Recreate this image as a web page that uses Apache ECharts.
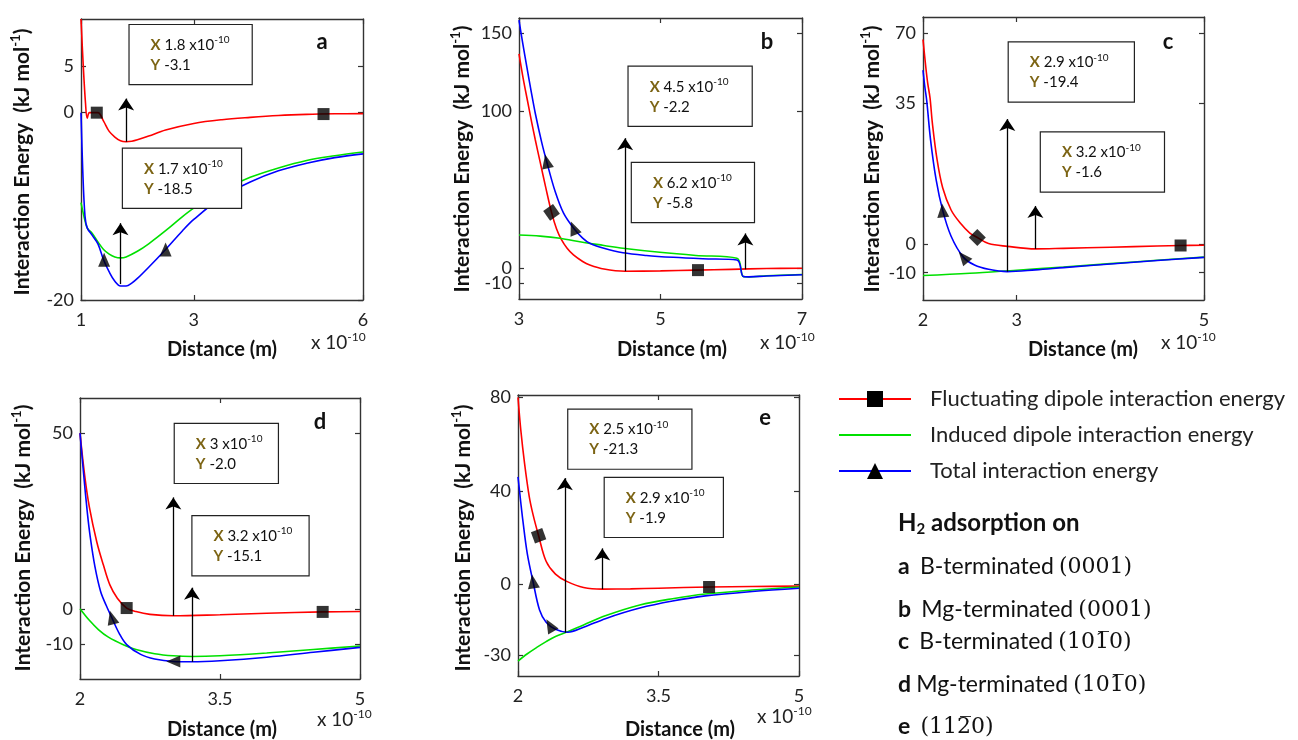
<!DOCTYPE html>
<html><head><meta charset="utf-8">
<script src="https://cdn.jsdelivr.net/npm/echarts@6/dist/echarts.min.js"></script>
<style>html,body{margin:0;padding:0;background:#fff}#c{width:1298px;height:740px}</style>
</head><body><div id="c"></div>
<script>
// ---------------- DATA (x in units of 1e-10 m, energies in kJ/mol) ----------------
const seriesNames = ['Fluctuating dipole interaction energy', 'Induced dipole interaction energy', 'Total interaction energy'];

// panel a
const aFluctX = [1.0,1.04,1.08,1.11,1.15,1.3,1.4,1.5,1.6,1.7,1.8,1.9,2.0,2.2,2.5,3.0,3.5,4.0,4.5,5.0,5.5,6.0];
const aFluctY = [10,5,1,-0.6,0,0,-0.9,-2.0,-2.6,-3.0,-3.1,-3.05,-2.9,-2.5,-1.85,-1.15,-0.75,-0.5,-0.3,-0.18,-0.12,-0.1];
const aIndX = [1.0,1.05,1.11,1.2,1.3,1.4,1.5,1.6,1.7,1.8,2.0,2.2,2.5,2.8,3.0,3.5,4.0,4.5,5.0,5.5,6.0];
const aIndY = [-9.6,-11,-12.3,-12.9,-13.8,-14.6,-15.1,-15.4,-15.5,-15.4,-14.8,-14,-12.6,-11.1,-10.2,-8.3,-6.9,-5.9,-5.1,-4.6,-4.2];
const aTotX = [1.0,1.03,1.07,1.11,1.2,1.3,1.4,1.5,1.6,1.7,1.8,1.9,2.0,2.2,2.5,2.8,3.0,3.5,4.0,4.5,5.0,5.5,6.0];
const aTotY = [0,-6,-11,-12.3,-13.1,-14.0,-15.7,-17,-18,-18.5,-18.5,-18.2,-17.7,-16.5,-14.6,-12.6,-11.4,-9.0,-7.4,-6.2,-5.4,-4.8,-4.4];
const aFluctMarkX = [1.28, 5.3], aFluctMarkY = [0, -0.15];
const aTotMarkX = [1.41, 2.5], aTotMarkY = [-15.7, -14.6];
const aXTicks = [1, 3, 6], aYTicks = [-20, 0, 5];
const aAnnX = [1.8, 1.7], aAnnY = [-3.1, -18.5], aAnnBase = [-3.1, -18.3], aAnnTip = [1.5, -11.8];

// panel b
const bFluctX = [3.0,3.06,3.12,3.18,3.23,3.3,3.38,3.46,3.53,3.6,3.68,3.77,3.9,4.0,4.2,4.5,5.0,5.5,6.0,6.5,7.0];
const bFluctY = [137,121,107,93,82,67.5,51,35.5,25,18,12.5,8.2,4,1.8,-0.8,-2.2,-2.0,-1.5,-1.0,-0.5,-0.3];
const bIndX = [3.0,3.3,3.58,3.9,4.2,4.47,4.99,5.5,6.08,6.17,6.25,6.5,7.0];
const bIndY = [21,20.3,18.9,16.3,14.3,12.5,9.9,7.9,6.1,-5.6,-5.8,-5.1,-4.3];
const bTotX = [3.0,3.05,3.11,3.17,3.23,3.32,3.39,3.51,3.63,3.77,3.9,4.0,4.2,4.47,4.8,5.18,5.6,6.08,6.17,6.25,6.5,7.0];
const bTotY = [158.6,144.5,128.8,113.5,99,80.5,68.2,49,35,25.5,19,15.7,12.5,9.6,7.9,6.7,5.8,5.0,-5.6,-5.8,-5.3,-4.5];
const bFluctMarkX = [3.46, 5.53], bFluctMarkY = [35.5, -1.5];
const bTotMarkX = [3.39, 3.77], bTotMarkY = [68.2, 25.5];
const bXTicks = [3, 5, 7], bYTicks = [-10, 0, 100, 150];
const bAnnX = [4.5, 6.2], bAnnY = [-2.2, -5.8], bAnnBase = [-2.2, -1.0], bAnnTip = [83, 22];

// panel c
const cFluctX = [2.0,2.03,2.05,2.075,2.1,2.15,2.21,2.3,2.4,2.5,2.58,2.7,2.9,3.2,3.5,4.0,4.5,4.75,5.0];
const cFluctY = [67,53,45,37.5,30,21,14,8.5,5.2,2.8,1.7,0.2,-0.7,-1.6,-1.4,-1.0,-0.6,-0.4,-0.3];
const cIndX = [2.0,2.5,3.0,3.5,4.0,4.5,5.0];
const cIndY = [-11,-10.2,-9.1,-8.0,-6.8,-5.6,-4.5];
const cTotX = [2.0,2.02,2.04,2.08,2.14,2.21,2.3,2.43,2.55,2.7,2.9,3.2,3.5,4.0,4.5,5.0];
const cTotY = [51.5,43,36,26,16,8.4,2,-4.5,-7.3,-8.8,-9.6,-9.0,-8.2,-6.9,-5.7,-4.6];
const cFluctMarkX = [2.58, 4.75], cFluctMarkY = [1.7, -0.4];
const cTotMarkX = [2.21, 2.43], cTotMarkY = [8.4, -4.5];
const cXTicks = [2, 3, 5], cYTicks = [-10, 0, 35, 70];
const cAnnX = [2.9, 3.2], cAnnY = [-19.4, -1.6], cAnnBase = [-9.6, -1.6], cAnnTip = [31, 9.5];

// panel d
const dFluctX = [2.0,2.05,2.1,2.18,2.25,2.32,2.4,2.5,2.6,2.75,3.0,3.5,4.0,4.6,5.0];
const dFluctY = [50,38,29,19,12.5,6.8,3,0.2,-0.8,-1.6,-2.0,-1.7,-1.3,-0.9,-0.8];
const dIndX = [2.0,2.1,2.2,2.3,2.47,2.6,2.8,3.0,3.2,3.5,4.0,4.5,5.0];
const dIndY = [0,-3.3,-6,-8,-10.3,-11.6,-12.8,-13.4,-13.6,-13.4,-12.6,-11.6,-10.6];
const dTotX = [2.0,2.04,2.08,2.11,2.16,2.22,2.28,2.34,2.42,2.5,2.65,2.8,3.0,3.2,3.5,4.0,4.5,5.0];
const dTotY = [50,38,27,20.4,12,5,1,-2.5,-7,-10.2,-13,-14.3,-15.0,-15.1,-14.8,-13.8,-12.4,-11.0];
const dFluctMarkX = [2.5, 4.6], dFluctMarkY = [0.2, -0.9];
const dTotMarkX = [2.34, 3.0], dTotMarkY = [-2.5, -15.0];
const dXTicks = [2, 3.5, 5], dYTicks = [-10, 0, 50];
const dAnnX = [3, 3.2], dAnnY = [-2.0, -15.1], dAnnBase = [-2.0, -15.1], dAnnTip = [31.7, 6];

// panel e
const eFluctX = [2.0,2.03,2.07,2.12,2.16,2.22,2.3,2.4,2.52,2.7,2.9,3.2,3.5,4.04,4.5,5.0];
const eFluctY = [80,66,51.8,37.6,30,20.9,10,4.5,1.4,-1.2,-1.9,-1.8,-1.5,-1.0,-0.8,-0.6];
const eIndX = [2.0,2.1,2.2,2.3,2.4,2.53,2.7,2.94,3.3,3.65,4.0,4.5,5.0];
const eIndY = [-32.6,-29.5,-26.8,-24.3,-22.1,-20.1,-17.2,-13.2,-8.7,-6,-4,-2.3,-1.0];
const eTotX = [2.0,2.03,2.05,2.1,2.16,2.23,2.3,2.4,2.53,2.7,2.94,3.3,3.65,4.0,4.5,5.0];
const eTotY = [46,35,28,13,1.4,-10.8,-16,-19,-20.3,-18.2,-14.4,-10,-7,-4.8,-2.9,-1.5];
const eFluctMarkX = [2.22, 4.04], eFluctMarkY = [20.9, -1.0];
const eTotMarkX = [2.16, 2.34], eTotMarkY = [1.4, -17.4];
const eXTicks = [2, 3.5, 5], eYTicks = [-30, 0, 40, 80];
const eAnnX = [2.5, 2.9], eAnnY = [-21.3, -1.9], eAnnBase = [-20.5, -1.9], eAnnTip = [45.5, 15.5];

// ---------------- assembly ----------------
const P = {
  a:{fx:aFluctX,fy:aFluctY,ix:aIndX,iy:aIndY,tx:aTotX,ty:aTotY,fmx:aFluctMarkX,fmy:aFluctMarkY,tmx:aTotMarkX,tmy:aTotMarkY,xt:aXTicks,yt:aYTicks,ax:aAnnX,ay:aAnnY,ab:aAnnBase,at:aAnnTip},
  b:{fx:bFluctX,fy:bFluctY,ix:bIndX,iy:bIndY,tx:bTotX,ty:bTotY,fmx:bFluctMarkX,fmy:bFluctMarkY,tmx:bTotMarkX,tmy:bTotMarkY,xt:bXTicks,yt:bYTicks,ax:bAnnX,ay:bAnnY,ab:bAnnBase,at:bAnnTip},
  c:{fx:cFluctX,fy:cFluctY,ix:cIndX,iy:cIndY,tx:cTotX,ty:cTotY,fmx:cFluctMarkX,fmy:cFluctMarkY,tmx:cTotMarkX,tmy:cTotMarkY,xt:cXTicks,yt:cYTicks,ax:cAnnX,ay:cAnnY,ab:cAnnBase,at:cAnnTip},
  d:{fx:dFluctX,fy:dFluctY,ix:dIndX,iy:dIndY,tx:dTotX,ty:dTotY,fmx:dFluctMarkX,fmy:dFluctMarkY,tmx:dTotMarkX,tmy:dTotMarkY,xt:dXTicks,yt:dYTicks,ax:dAnnX,ay:dAnnY,ab:dAnnBase,at:dAnnTip},
  e:{fx:eFluctX,fy:eFluctY,ix:eIndX,iy:eIndY,tx:eTotX,ty:eTotY,fmx:eFluctMarkX,fmy:eFluctMarkY,tmx:eTotMarkX,tmy:eTotMarkY,xt:eXTicks,yt:eYTicks,ax:eAnnX,ay:eAnnY,ab:eAnnBase,at:eAnnTip}
};

// layout & style (positions, scales, marker rotations)
const L = {
  a:{grid:{left:81,top:19,width:282,height:281}, xr:[1,6], yv:[-20,10], yp:[-20,10],
     fRot:[0,0], tRot:[0,0], boxes:[{dx:4,gap:7,w:122},{dx:3,gap:8,w:118}],
     yTitle:[22,162], xTitle:[222,350], mult:[311,343], letter:[322,42]},
  b:{grid:{left:519,top:18,width:283,height:281}, xr:[3,7], yv:[-20,160], yp:[-20,160],
     fRot:[35,0], tRot:[12,22], boxes:[{dx:4,gap:5,w:123},{dx:-113,gap:4,w:122}],
     yTitle:[462,159], xTitle:[672,350], mult:[760,343], letter:[767,42]},
  c:{grid:{left:923,top:17,width:281,height:283}, xr:[2,5], yv:[-19.6,-10,0,35,70,78.4], yp:[0,27.3,55.7,197.3,266.7,283.3],
     fRot:[45,0], tRot:[5,40], boxes:[{dx:2,gap:10,w:125},{dx:6,gap:7,w:123}],
     yTitle:[872,159], xTitle:[1083,350], mult:[1161,343], letter:[1168,42]},
  d:{grid:{left:80,top:398,width:280,height:281}, xr:[2,5], yv:[-20,60], yp:[-20,60],
     fRot:[0,0], tRot:[15,90], boxes:[{dx:2,gap:7,w:103},{dx:1,gap:5,w:116}],
     yTitle:[23,538], xTitle:[222,730], mult:[317,720], letter:[320,422]},
  e:{grid:{left:518,top:395,width:281,height:281}, xr:[2,5], yv:[-39,81], yp:[-39,81],
     fRot:[20,0], tRot:[8,30], boxes:[{dx:4,gap:2,w:123},{dx:3,gap:4,w:118}],
     yTitle:[463,538], xTitle:[680,730], mult:[757,717], letter:[765,418]}
};

const FONT = 'Lato, "Open Sans", sans-serif';
const COLORS = ['#ff0000', '#00e000', '#0000ff'];
const AX = '#333';

function makeMap(vals, pos) {
  return v => {
    let i = 0;
    while (i < vals.length - 2 && v > vals[i + 1]) i++;
    const t = (v - vals[i]) / (vals[i + 1] - vals[i]);
    return pos[i] + t * (pos[i + 1] - pos[i]);
  };
}

const grids = [], xAxes = [], yAxes = [], series = [], graphics = [];
const ids = ['a', 'b', 'c', 'd', 'e'];

ids.forEach((id, gi) => {
  const d = P[id], l = L[id];
  const ty = makeMap(l.yv, l.yp);
  grids.push(Object.assign({show:false, outerBoundsMode:'none', containLabel:false}, l.grid));
  const yTickPos = d.yt.map(ty);
  const lbl = v => { let best = 0, bd = 1e9; yTickPos.forEach((p, k) => { const dd = Math.abs(p - v); if (dd < bd) { bd = dd; best = k; } }); return String(d.yt[best]); };
  const axLine = {show:true, onZero:false, lineStyle:{color:AX, width:1.4}};
  const tick = vals => ({show:true, inside:true, length:5, customValues:vals, lineStyle:{color:AX, width:1.2}});
  const labStyle = {hideOverlap:false, fontSize:18, fontFamily:FONT, color:'#222'};
  xAxes.push({type:'value', gridIndex:gi, position:'bottom', min:l.xr[0], max:l.xr[1], axisLine:axLine, axisTick:tick(d.xt),
    axisLabel:Object.assign({show:true, customValues:d.xt, margin:11, formatter:v=>String(v)}, labStyle), splitLine:{show:false}});
  xAxes.push({type:'value', gridIndex:gi, position:'top', min:l.xr[0], max:l.xr[1], axisLine:axLine, axisTick:tick(d.xt), axisLabel:{show:false}, splitLine:{show:false}});
  const y0 = l.yp[0], y1 = l.yp[l.yp.length - 1];
  const evenPos = yTickPos.filter((p, k) => k % 2 === 0), oddPos = yTickPos.filter((p, k) => k % 2 === 1);
  yAxes.push({type:'value', gridIndex:gi, position:'left', min:y0, max:y1, axisLine:axLine, axisTick:tick(yTickPos),
    axisLabel:Object.assign({show:true, customValues:evenPos, margin:7, formatter:lbl}, labStyle), splitLine:{show:false}});
  yAxes.push({type:'value', gridIndex:gi, position:'right', min:y0, max:y1, axisLine:axLine, axisTick:tick(yTickPos), axisLabel:{show:false}, splitLine:{show:false}});
  yAxes.push({type:'value', gridIndex:gi, position:'left', min:y0, max:y1, axisLine:{show:false, onZero:false}, axisTick:{show:false},
    axisLabel:Object.assign({show:true, customValues:oddPos, margin:7, formatter:lbl}, labStyle), splitLine:{show:false}});

  const xi = gi * 2, yi = gi * 3;
  const pts = (xs, ys) => xs.map((x, k) => [x, ty(ys[k])]);
  const lineS = (k, xs, ys, sym) => ({type:'line', name:seriesNames[k], xAxisIndex:xi, yAxisIndex:yi, data:pts(xs, ys),
    showSymbol:false, symbol:sym, smooth:0.35, clip:true,
    lineStyle:{color:COLORS[k], width:1.6}, itemStyle:{color:COLORS[k]}, z:2});
  series.push(lineS(0, d.fx, d.fy, 'rect'));
  series.push(lineS(1, d.ix, d.iy, 'none'));
  series.push(lineS(2, d.tx, d.ty, 'triangle'));

  const marks = [];
  d.fmx.forEach((x, k) => marks.push({value:[x, ty(d.fmy[k])], symbol:'rect', symbolRotate:l.fRot[k], symbolSize:12}));
  d.tmx.forEach((x, k) => marks.push({value:[x, ty(d.tmy[k])], symbol:'triangle', symbolRotate:l.tRot[k], symbolSize:[12, 14]}));
  series.push({type:'scatter', name:'markers-' + id, xAxisIndex:xi, yAxisIndex:yi, data:marks, itemStyle:{color:'#000'}, z:4, silent:true});

  const lines = d.ax.map((x, k) => [{coord:[x, ty(d.ab[k])]}, {coord:[x, ty(d.at[k])]}]);
  const boxes = d.ax.map((x, k) => {
    const b = l.boxes[k];
    return {coord:[x, ty(d.at[k])], symbol:'circle', symbolSize:1, itemStyle:{color:'transparent'},
      label:{show:true, position:[b.dx, -b.gap - 7], align:'left', verticalAlign:'bottom',
        width:b.w - 25, height:40, padding:[10, 4, 9, 21],
        formatter:'{k|X} {v|' + x + ' x10}{s|-10}\n{k|Y} {v|' + d.ay[k].toFixed(1) + '}'}};
  });
  series.push({type:'line', name:'ann-' + id, xAxisIndex:xi, yAxisIndex:yi, data:[], z:6,
    markLine:{silent:true, symbol:['none', 'arrow'], symbolSize:12, label:{show:false}, lineStyle:{color:'#000', width:1.3, type:'solid'}, data:lines, animation:false},
    markPoint:{silent:true, data:boxes, label:{backgroundColor:'#fff', borderColor:'#222', borderWidth:1.2, fontSize:15, fontFamily:FONT, color:'#111', lineHeight:20,
      rich:{k:{fontSize:15, fontWeight:'bold', color:'#7c6414', fontFamily:FONT, lineHeight:20},
            v:{fontSize:15, color:'#111', fontFamily:FONT, lineHeight:20},
            s:{fontSize:10, color:'#111', fontFamily:FONT, lineHeight:10, verticalAlign:'top'}}}, animation:false}});

  graphics.push({type:'text', x:l.yTitle[0], y:l.yTitle[1], rotation:Math.PI / 2, style:{
    text:'{t|Interaction Energy  (kJ mol}{s|-1}{t|)}', align:'center', verticalAlign:'middle',
    rich:{t:{fontSize:21, fontWeight:'bold', fontFamily:FONT, fill:'#111', lineHeight:26},
          s:{fontSize:13, fontWeight:'bold', fontFamily:FONT, fill:'#111', lineHeight:14, verticalAlign:'top'}}}});
  graphics.push({type:'text', x:l.xTitle[0], y:l.xTitle[1], style:{text:'Distance (m)', align:'center', verticalAlign:'middle',
    fontSize:20, fontWeight:'bold', fontFamily:FONT, fill:'#111'}});
  graphics.push({type:'text', x:l.mult[0], y:l.mult[1], style:{text:'{t|x 10}{s|-10}', align:'left', verticalAlign:'middle',
    rich:{t:{fontSize:19, fontFamily:FONT, fill:'#222', lineHeight:24}, s:{fontSize:12, fontFamily:FONT, fill:'#222', lineHeight:13, verticalAlign:'top'}}}});
  graphics.push({type:'text', x:l.letter[0], y:l.letter[1], style:{text:id, align:'center', verticalAlign:'middle',
    fontSize:22, fontWeight:'bold', fontFamily:FONT, fill:'#111'}});
});

// surface list
const surfLetters = ['a', 'b', 'c', 'd', 'e'];
const surfNames = ['B-terminated', 'Mg-terminated', 'B-terminated', 'Mg-terminated', ''];
const surfIdx = ['(0001)', '(0001)', '(101\u03050)', '(101\u03050)', '(112\u03050)'];
const listY = [567, 610, 642, 685, 727];
const listGap = ['  ', '  ', '  ', ' ', '  '];
graphics.push({type:'text', x:898, y:523, style:{text:'{b|H}{sub|2}{b| adsorption on}', align:'left', verticalAlign:'middle',
  rich:{b:{fontSize:24, fontWeight:'bold', fontFamily:FONT, fill:'#111', lineHeight:28},
        sub:{fontSize:15, fontWeight:'bold', fontFamily:FONT, fill:'#111', lineHeight:14, verticalAlign:'bottom'}}}});
surfLetters.forEach((s, k) => {
  graphics.push({type:'text', x:898, y:listY[k], style:{
    text:'{b|' + s + '}' + '{sp|' + listGap[k] + '}' + (surfNames[k] ? '{t|' + surfNames[k] + '}{sp| }' : '') + '{m|' + surfIdx[k] + '}',
    align:'left', verticalAlign:'middle',
    rich:{b:{fontSize:23, fontWeight:'bold', fontFamily:FONT, fill:'#111', lineHeight:28},
          sp:{fontSize:20, fontFamily:FONT, fill:'#111', lineHeight:28},
          t:{fontSize:23, fontFamily:FONT, fill:'#111', lineHeight:28},
          m:{fontSize:22, fontFamily:'"DejaVu Serif", serif', fill:'#111', lineHeight:28}}}});
});

const chart = echarts.init(document.getElementById('c'), null, {renderer:'canvas'});
chart.setOption({
  animation:false,
  backgroundColor:'#fff',
  grid:grids, xAxis:xAxes, yAxis:yAxes, series:series,
  legend:{orient:'vertical', left:833, top:383, itemWidth:72, itemHeight:20, itemGap:14, selectedMode:false,
    data:[{name:seriesNames[0], itemStyle:{color:'#000'}}, {name:seriesNames[1], itemStyle:{opacity:0}}, {name:seriesNames[2], itemStyle:{color:'#000'}}],
    lineStyle:{width:2},
    textStyle:{fontFamily:FONT, fontSize:22, color:'#222', padding:[0, 0, 0, 14]}},
  graphic:{elements:graphics}
});
</script></body></html>
